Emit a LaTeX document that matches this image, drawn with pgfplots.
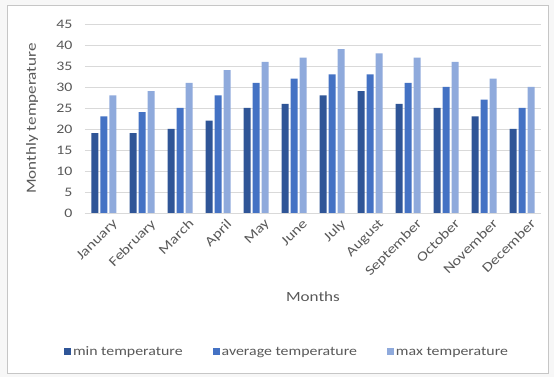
\documentclass[border=0pt]{standalone}
\usepackage{pgfplots}
\pgfplotsset{compat=1.18}
\usepackage{fontspec}
\setmainfont{Carlito}[FakeStretch=1.22]
\definecolor{cmin}{HTML}{2F5597}
\definecolor{cavg}{HTML}{4472C4}
\definecolor{cmax}{HTML}{8FAADC}
\definecolor{txt}{HTML}{595959}
\definecolor{gridc}{HTML}{D9D9D9}
\begin{document}
\begin{tikzpicture}[x=1pt,y=1pt]
\fill[gray!6] (0,0) rectangle (554,377);
\filldraw[fill=white,draw=gray!45,line width=0.8pt] (7,4) rectangle (548,372);
\begin{axis}[
  at={(85pt,164pt)}, anchor=south west,
  scale only axis, width=456pt, height=189pt,
  ybar=2pt, bar width=7pt,
  xmin=-0.5, xmax=11.5, ymin=0, ymax=45,
  ytick={0,5,...,45},
  xtick=data,
  xticklabels={January,February,March,April,May,June,July,August,September,October,November,December},
  xticklabel style={rotate=45, anchor=north east, font=\fontsize{13.5}{14}\selectfont, text=txt, inner sep=1pt, yshift=-8pt, xshift=3pt},
  yticklabel style={font=\fontsize{13}{14}\selectfont, text=txt, xshift=-9pt},
  /pgf/number format/assume math mode=true,
  axis y line*=left, axis x line*=bottom,
  y axis line style={draw=none},
  x axis line style={draw=gridc, line width=0.8pt},
  major tick length=0pt,
  ymajorgrids, grid style={gridc, line width=0.8pt},
  xlabel={Months}, ylabel={Monthly temperature},
  xlabel style={at={(0.5,-0.444)}, anchor=center, font=\fontsize{14}{16}\selectfont, text=txt},
  ylabel style={at={(-0.116,0.5)}, anchor=center, font=\fontsize{14}{16}\selectfont, text=txt},
  legend style={at={(0.443,-0.735)}, anchor=center, draw=none, legend columns=3,
    font=\fontsize{13}{14}\selectfont, text=txt, inner sep=0pt,
    /tikz/every even column/.append style={column sep=28pt}},
  legend image code/.code={\fill[#1] (0pt,-3.5pt) rectangle (7pt,3.5pt);},
]
\addplot[fill=cmin, draw=none] coordinates {(0,19) (1,19) (2,20) (3,22) (4,25) (5,26) (6,28) (7,29) (8,26) (9,25) (10,23) (11,20)};
\addplot[fill=cavg, draw=none] coordinates {(0,23) (1,24) (2,25) (3,28) (4,31) (5,32) (6,33) (7,33) (8,31) (9,30) (10,27) (11,25)};
\addplot[fill=cmax, draw=none] coordinates {(0,28) (1,29) (2,31) (3,34) (4,36) (5,37) (6,39) (7,38) (8,37) (9,36) (10,32) (11,30)};
\legend{min temperature, average temperature, max temperature}
\end{axis}
\end{tikzpicture}
\end{document}
